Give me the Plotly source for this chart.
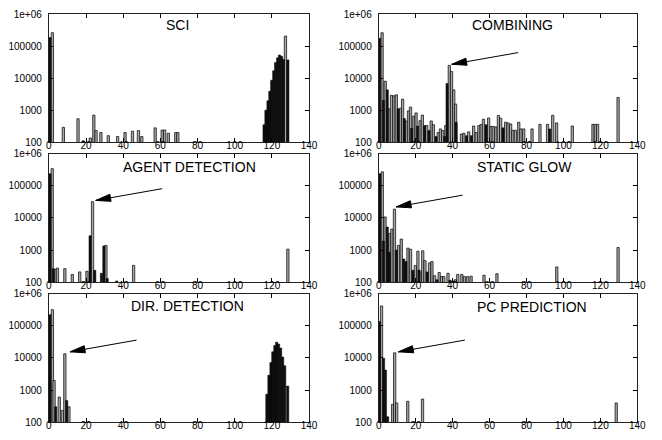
import math
import plotly.graph_objects as go

# ---------------- data ----------------
titles = ["SCI", "COMBINING", "AGENT DETECTION", "STATIC GLOW", "DIR. DETECTION", "PC PREDICTION"]

sci_dark_x = [0.6, 115.8, 116.8, 117.9, 118.9, 119.9, 121.0, 122.0, 123.1, 124.1, 125.2, 126.2, 128.6]
sci_dark_y = [186000, 350, 1000, 1950, 3900, 8600, 17000, 31000, 43000, 53000, 48000, 38000, 37000]
sci_light_x = [1.9, 7.8, 15.7, 18.5, 22.3, 24.2, 25.4, 28.0, 32.0, 37.0, 41.0, 45.0, 48.2, 50.0,
               57.2, 61.0, 62.3, 64.3, 68.3, 69.4, 127.3]
sci_light_y = [263000, 290, 540, 110, 135, 700, 230, 200, 160, 150, 200, 220, 230, 150,
               280, 240, 240, 190, 200, 200, 205000]

comb_dark_x = [0.5, 2.5, 4.6, 10.5, 13.8, 17.8, 21.0, 24.8, 27.2, 31.0, 35.6, 37.0, 41.9, 47.5,
               50.1, 58.1, 67.3, 92.6]
comb_dark_y = [176000, 2000, 4300, 1100, 550, 270, 320, 330, 230, 150, 150, 6800, 420, 160,
               160, 350, 280, 260]
comb_light_x = [1.8, 3.5, 5.6, 6.9, 8.2, 9.5, 11.7, 12.9, 15.0, 16.1, 17.2, 19.0, 20.2, 22.4,
                23.6, 26.0, 28.4, 29.6, 32.2, 33.4, 34.6, 36.3, 38.2, 39.4, 40.6, 41.6, 44.8,
                46.1, 48.7, 51.4, 52.8, 54.2, 55.5, 56.7, 59.5, 60.8, 62.0, 63.4, 64.8, 66.0,
                68.7, 70.0, 71.4, 72.6, 74.0, 75.8, 77.0, 78.5, 83.0, 87.3, 91.4, 94.2, 96.3,
                104.8, 116.0, 117.3, 118.5, 129.6]
comb_light_y = [262000, 8000, 1100, 2900, 2800, 3000, 1150, 2200, 460, 950, 1250, 650, 820, 470,
                700, 330, 460, 350, 200, 260, 230, 330, 25000, 16000, 4300, 1550, 180,
                190, 210, 320, 200, 330, 360, 520, 570, 310, 310, 300, 680, 560,
                420, 400, 370, 235, 235, 420, 260, 260, 260, 360, 360, 690, 400,
                320, 360, 360, 360, 2500]

agent_dark_x = [0.6, 2.4, 22.2, 24.7, 28.3, 29.6, 31.4, 36.5]
agent_dark_y = [237000, 265, 2800, 235, 190, 1350, 130, 110]
agent_light_x = [1.8, 3.4, 4.6, 8.6, 12.6, 16.6, 20.5, 23.5, 30.7, 45.6, 128.6]
agent_light_y = [340000, 250, 275, 265, 175, 210, 220, 32000, 1400, 335, 1070]

glow_dark_x = [0.6, 2.5, 4.6, 5.8, 9.5, 13.5, 14.7, 18.5, 21.8, 26.2, 31.5, 38.5, 40.0]
glow_dark_y = [237000, 1900, 5200, 850, 1000, 530, 440, 235, 240, 210, 120, 115, 110]
glow_light_x = [1.9, 3.4, 6.0, 7.1, 8.5, 10.7, 12.2, 15.8, 17.2, 19.8, 21.2, 22.6, 23.8, 25.0,
                27.5, 28.8, 30.2, 32.7, 34.0, 35.2, 37.5, 41.5, 42.8, 45.0, 46.4, 48.2, 50.0,
                57.0, 64.0, 96.4, 129.6]
glow_light_y = [270000, 10700, 3300, 4500, 18700, 1400, 2200, 1150, 1070, 330, 920, 210, 950, 470,
                400, 440, 160, 200, 150, 150, 190, 120, 175, 175, 150, 150, 155,
                165, 185, 300, 1200]

dir_dark_x = [0.6, 3.7, 9.6, 117.3, 118.4, 119.5, 120.5, 121.6, 122.6, 123.6, 124.7, 125.8, 126.9, 128.5]
dir_dark_y = [222000, 305, 480, 750, 2900, 7200, 15500, 24500, 31000, 27000, 20400, 10700, 5700, 1340]
dir_light_x = [1.9, 2.8, 5.6, 7.3, 8.6, 10.8]
dir_light_y = [318000, 2000, 610, 235, 13500, 305]

pc_dark_x = [0.4, 2.6, 3.6, 4.8]
pc_dark_y = [137000, 9800, 4200, 150]
pc_light_x = [1.5, 7.5, 8.6, 9.7, 15.7, 23.7, 128.6]
pc_light_y = [415000, 360, 14500, 400, 450, 530, 400]

# arrow heads (x, y value) pointing at the marked spikes; None = no arrow
arrow_x = [None, 39.5, 25.2, 9.4, 11.4, 10.6]
arrow_y = [None, 27000, 35000, 22000, 15500, 15500]

y_tickvals = [100, 1000, 10000, 100000, 1000000]
y_ticktext = ["100", "1000", "10000", "100000", "1e+06"]
x_tickvals = [0, 20, 40, 60, 80, 100, 120, 140]

panels = [
    (sci_dark_x, sci_dark_y, sci_light_x, sci_light_y),
    (comb_dark_x, comb_dark_y, comb_light_x, comb_light_y),
    (agent_dark_x, agent_dark_y, agent_light_x, agent_light_y),
    (glow_dark_x, glow_dark_y, glow_light_x, glow_light_y),
    (dir_dark_x, dir_dark_y, dir_light_x, dir_light_y),
    (pc_dark_x, pc_dark_y, pc_light_x, pc_light_y),
]

# ---------------- layout geometry ----------------
W, H = 662, 440
col_px = [(46.7, 311.7), (382.7, 646.0)]
row_px = [(8.3, 140.0), (151.7, 284.0), (295.7, 428.0)]
title_px = [(178, 20), (519, 20), (190, 165), (531, 165), (188, 308), (539, 309)]
arrow_tail = (68, -12)      # tail offset from tip, screen pixels
head_len, head_half = 15.0, 3.6

fig = go.Figure()
layout = dict(
    width=W, height=H, margin=dict(l=0, r=0, t=0, b=0),
    paper_bgcolor="white", plot_bgcolor="white",
    showlegend=False, barmode="overlay",
    font=dict(family="Liberation Sans, Arial, sans-serif", color="black"),
)
annotations = []
shapes = []

# arrowhead triangle (pixel path relative to tip, y up)
L = math.hypot(*arrow_tail)
ux, uy = arrow_tail[0] / L, arrow_tail[1] / L
px_, py_ = -uy, ux
bx, by = head_len * ux, head_len * uy
c1 = (bx + head_half * px_, by + head_half * py_)
c2 = (bx - head_half * px_, by - head_half * py_)
tri_path = "M0,0 L{:.2f},{:.2f} L{:.2f},{:.2f} Z".format(c1[0], -c1[1], c2[0], -c2[1])

for i, (dx, dy, lx, ly) in enumerate(panels):
    r, c = divmod(i, 2)
    n = "" if i == 0 else str(i + 1)
    xa, ya = "x" + n, "y" + n
    fig.add_trace(go.Bar(x=lx, y=ly, width=1.25, xaxis=xa, yaxis=ya,
                         marker=dict(color="#a6a6a6", line=dict(color="black", width=0.7))))
    fig.add_trace(go.Bar(x=dx, y=dy, width=1.2, xaxis=xa, yaxis=ya,
                         marker=dict(color="#111111", line=dict(color="black", width=0.5))))
    x0, x1 = col_px[c]
    y0, y1 = row_px[r]
    layout["xaxis" + n] = dict(
        domain=[x0 / W, x1 / W], anchor=ya, range=[0, 140], tickvals=x_tickvals,
        ticks="inside", ticklen=4, tickcolor="black", showline=True, linecolor="#222",
        linewidth=1, mirror="allticks", showgrid=False, zeroline=False,
        tickfont=dict(size=10), ticklabelstandoff=-6, fixedrange=True,
    )
    layout["yaxis" + n] = dict(
        domain=[1 - y1 / H, 1 - y0 / H], anchor=xa, type="log", range=[2, 6],
        tickvals=y_tickvals, ticktext=y_ticktext,
        ticks="inside", ticklen=4, tickcolor="black", showline=True, linecolor="#222",
        linewidth=1, mirror="allticks", showgrid=False, zeroline=False,
        tickfont=dict(size=10), ticklabelstandoff=4, fixedrange=True,
    )
    tx, ty = title_px[i]
    annotations.append(dict(text=titles[i], xref="paper", yref="paper",
                            x=tx / W, y=1 - ty / H, showarrow=False,
                            font=dict(size=14), xanchor="center", yanchor="middle"))
    if arrow_x[i] is not None:
        ly_log = math.log10(arrow_y[i])
        annotations.append(dict(x=arrow_x[i], y=ly_log, xref=xa, yref=ya,
                                ax=arrow_tail[0], ay=arrow_tail[1], axref="pixel", ayref="pixel",
                                text="", showarrow=True, arrowhead=0, arrowwidth=1,
                                arrowcolor="black"))
        shapes.append(dict(type="path", xref=xa, yref=ya + " domain",
                           xsizemode="pixel", ysizemode="pixel",
                           xanchor=arrow_x[i], yanchor=(ly_log - 2) / 4,
                           path=tri_path, fillcolor="black", line=dict(color="black", width=1)))

layout["annotations"] = annotations
layout["shapes"] = shapes
fig.update_layout(**layout)
fig.write_html("out.html")
